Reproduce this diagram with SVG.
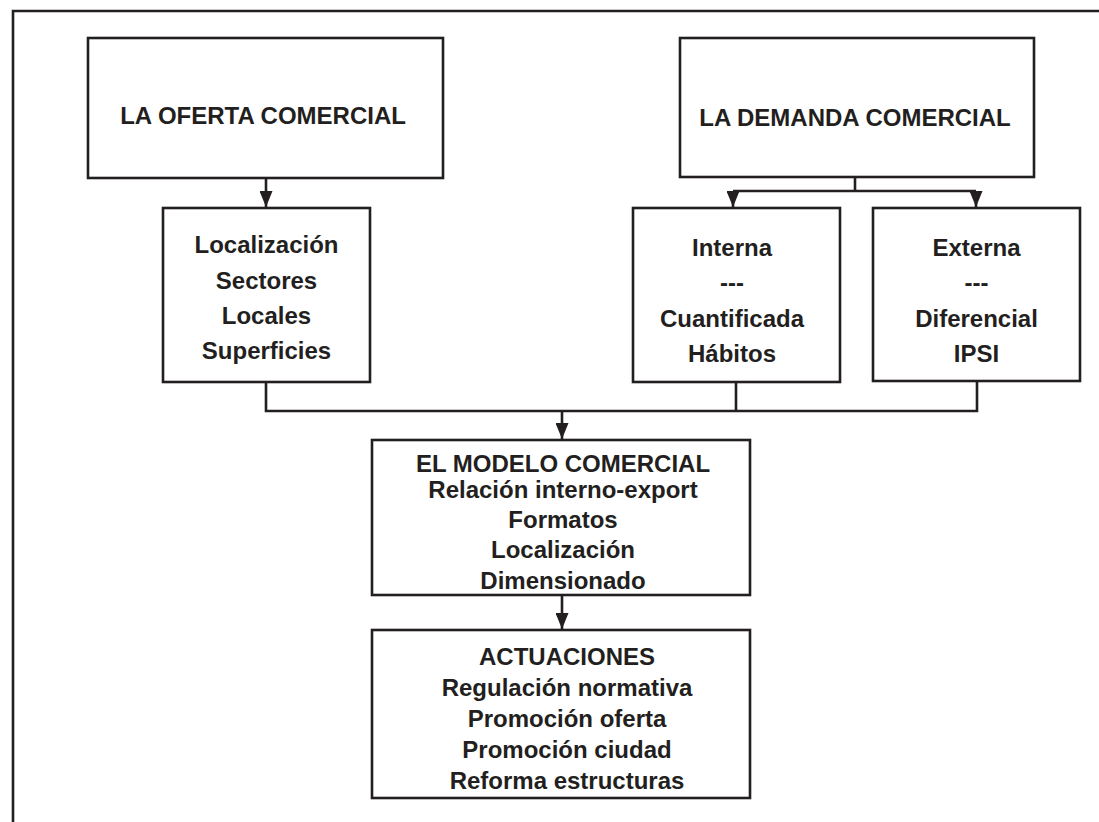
<svg xmlns="http://www.w3.org/2000/svg" width="1099" height="822" viewBox="0 0 1099 822">
<style>
.box{fill:#fff;stroke:#231f20;stroke-width:2.6}
.t{font-family:"Liberation Sans",Arial,sans-serif;font-weight:bold;font-size:24px;fill:#231f20;text-anchor:middle}
.c{fill:none;stroke:#231f20;stroke-width:2.6}
</style>
<defs>
<marker id="ah" viewBox="0 0 16 13" refX="16" refY="6.5" markerWidth="16" markerHeight="13" markerUnits="userSpaceOnUse" orient="auto">
<path d="M0,0 L16,6.5 L0,13 Z" fill="#231f20"/>
</marker>
</defs>
<rect width="1099" height="822" fill="#fff"/>
<path d="M13,830 V11 H1110" fill="none" stroke="#231f20" stroke-width="2.6"/>
<g id="connectors">
<line class="c" x1="266" y1="178" x2="266" y2="207" marker-end="url(#ah)"/>
<path class="c" d="M855,177 V191 M733,191 H976"/>
<line class="c" x1="733" y1="191" x2="733" y2="207" marker-end="url(#ah)"/>
<line class="c" x1="976" y1="191" x2="976" y2="207" marker-end="url(#ah)"/>
<path class="c" d="M266,382 V411 H977 V381 M736,382 V411"/>
<line class="c" x1="562" y1="411" x2="562" y2="439" marker-end="url(#ah)"/>
<line class="c" x1="562" y1="595" x2="562" y2="629" marker-end="url(#ah)"/>
</g>
<g id="oferta">
<rect class="box" x="88" y="38" width="355" height="140"/>
<text class="t" x="263" y="124">LA OFERTA COMERCIAL</text>
</g>
<g id="demanda">
<rect class="box" x="680" y="38" width="354" height="139"/>
<text class="t" x="855" y="126">LA DEMANDA COMERCIAL</text>
</g>
<g id="localizacion">
<rect class="box" x="163" y="208" width="207" height="174"/>
<text class="t" x="266.5" y="253">Localización</text>
<text class="t" x="266.5" y="289">Sectores</text>
<text class="t" x="266.5" y="324">Locales</text>
<text class="t" x="266.5" y="359">Superficies</text>
</g>
<g id="interna">
<rect class="box" x="633" y="208" width="207" height="174"/>
<text class="t" x="732" y="256">Interna</text>
<text class="t" x="732" y="291">---</text>
<text class="t" x="732" y="327">Cuantificada</text>
<text class="t" x="732" y="362">Hábitos</text>
</g>
<g id="externa">
<rect class="box" x="873" y="208" width="207" height="173"/>
<text class="t" x="976.5" y="256">Externa</text>
<text class="t" x="976.5" y="291">---</text>
<text class="t" x="976.5" y="327">Diferencial</text>
<text class="t" x="976.5" y="362">IPSI</text>
</g>
<g id="modelo">
<rect class="box" x="372" y="440" width="378" height="155"/>
<text class="t" x="563" y="472">EL MODELO COMERCIAL</text>
<text class="t" x="563" y="498">Relación interno-export</text>
<text class="t" x="563" y="528">Formatos</text>
<text class="t" x="563" y="558">Localización</text>
<text class="t" x="563" y="589">Dimensionado</text>
</g>
<g id="actuaciones">
<rect class="box" x="372" y="630" width="378" height="168"/>
<text class="t" x="567" y="665">ACTUACIONES</text>
<text class="t" x="567" y="696">Regulación normativa</text>
<text class="t" x="567" y="727">Promoción oferta</text>
<text class="t" x="567" y="758">Promoción ciudad</text>
<text class="t" x="567" y="789">Reforma estructuras</text>
</g>
</svg>
